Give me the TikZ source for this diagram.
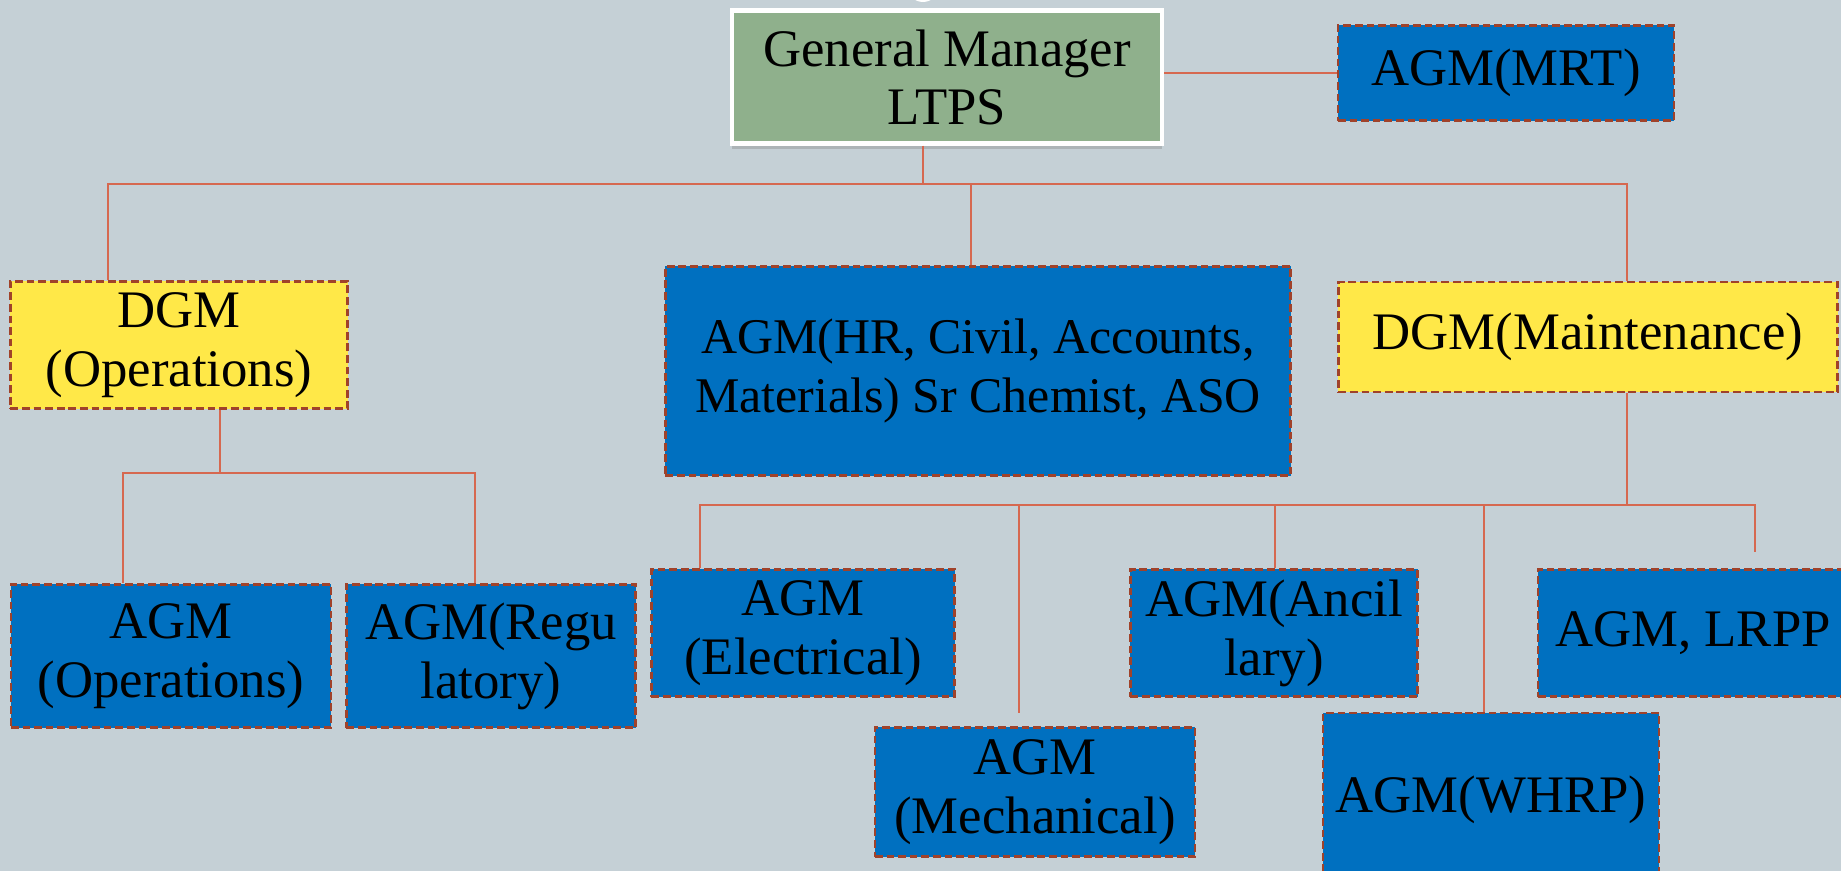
\documentclass[tikz,border=0pt]{standalone}
\usepackage{fontspec}
\setmainfont{Liberation Serif}
\usetikzlibrary{shadows}

\definecolor{bgc}{RGB}{197,208,214}
\definecolor{gmgreen}{RGB}{143,176,140}
\definecolor{agmblue}{RGB}{0,112,192}
\definecolor{dgmyellow}{RGB}{255,232,72}
\definecolor{dashred}{RGB}{160,66,42}
\definecolor{linkred}{RGB}{214,104,80}

\begin{document}
\begin{tikzpicture}[x=0.01cm,y=-0.01cm,
  box/.style={draw=dashred, line width=0.7pt, dash pattern=on 2.2pt off 1.1pt,
    align=center, inner sep=0pt, font=\fontsize{15}{16.8}\selectfont},
  agm/.style={box, fill=agmblue},
  dgm/.style={box, fill=dgmyellow},
  link/.style={draw=linkred, line width=0.6pt}]
  \useasboundingbox (0,0) rectangle (1841,871);
  \clip (0,0) rectangle (1841,871);
  \fill[bgc] (0,0) rectangle (1841,871);
  \fill[white] (923,-14) circle (16);   %top edge

  % GM
  \node[fill=gmgreen, draw=white, line width=1.2pt, align=center,
    minimum width=4.3cm, minimum height=1.33cm, font=\fontsize{15}{16.5}\selectfont,
    drop shadow={shadow xshift=0pt, shadow yshift=-1.5pt, opacity=0.35}]
    (gm) at (947,77) {General Manager\\LTPS};
  \node[agm, minimum width=3.36cm, minimum height=0.95cm] (mrt) at (1506,73) {AGM(MRT)};

  % second row
  \node[dgm, minimum width=3.37cm, minimum height=1.27cm] (dgmo) at (179,345) {DGM\\(Operations)};
  \node[agm, minimum width=6.25cm, minimum height=2.09cm, font=\fontsize{14.2}{16.5}\selectfont]
    (mid) at (978,371) {AGM(HR, Civil, Accounts,\\Materials) Sr Chemist, ASO};
  \node[dgm, minimum width=4.99cm, minimum height=1.10cm] (dgmm) at (1588,337) {DGM(Maintenance)};

  % operations
  \node[agm, minimum width=3.20cm, minimum height=1.43cm] (aops) at (171,656) {AGM\\(Operations)};
  \node[agm, minimum width=2.89cm, minimum height=1.43cm] (areg) at (491,656) {AGM(Regu\\latory)};

  % maintenance
  \node[agm, minimum width=3.03cm, minimum height=1.27cm] (aelec) at (803,633) {AGM\\(Electrical)};
  \node[agm, minimum width=3.20cm, minimum height=1.29cm] (amech) at (1035,792) {AGM\\(Mechanical)};
  \node[agm, minimum width=2.87cm, minimum height=1.27cm] (ancil) at (1274,633) {AGM(Ancil\\lary)};
  \node[agm, minimum width=3.36cm, minimum height=1.74cm] (whrp) at (1491,800) {AGM(WHRP)};
  \node[agm, minimum width=3.10cm, minimum height=1.27cm] (lrpp) at (1693,633) {AGM, LRPP};

  % bus points
  \coordinate (t0) at (923,184);
  \coordinate (tl) at (108,184);
  \coordinate (tr) at (1627,184);
  \coordinate (tm) at (971,184);
  \coordinate (o0) at (220,473);
  \coordinate (ol) at (123,473);
  \coordinate (or) at (475,473);
  \coordinate (m0) at (1627,505);
  \coordinate (ml) at (700,505);
  \coordinate (mr) at (1755,505);
  \coordinate (lp) at (1755,552);
  \coordinate (mk) at (1019,505);
  \coordinate (mke) at (1019,713);
  \coordinate (an) at (1275,505);
  \coordinate (wh) at (1484,505);

  \draw[link] (gm.east |- mrt.west) -- (mrt.west);
  \draw[link] (gm.south -| t0) -- (t0);
  \draw[link] (tl |- dgmo.north) -- (tl) -- (tr) -- (tr |- dgmm.north);
  \draw[link] (tm) -- (tm |- mid.north);

  \draw[link] (dgmo.south -| o0) -- (o0);
  \draw[link] (ol |- aops.north) -- (ol) -- (or) -- (or |- areg.north);

  \draw[link] (dgmm.south -| m0) -- (m0);
  \draw[link] (ml |- aelec.north) -- (ml) -- (mr) -- (lp);
  \draw[link] (mk) -- (mke);
  \draw[link] (an) -- (an |- ancil.north);
  \draw[link] (wh) -- (wh |- whrp.north);
\end{tikzpicture}
\end{document}
